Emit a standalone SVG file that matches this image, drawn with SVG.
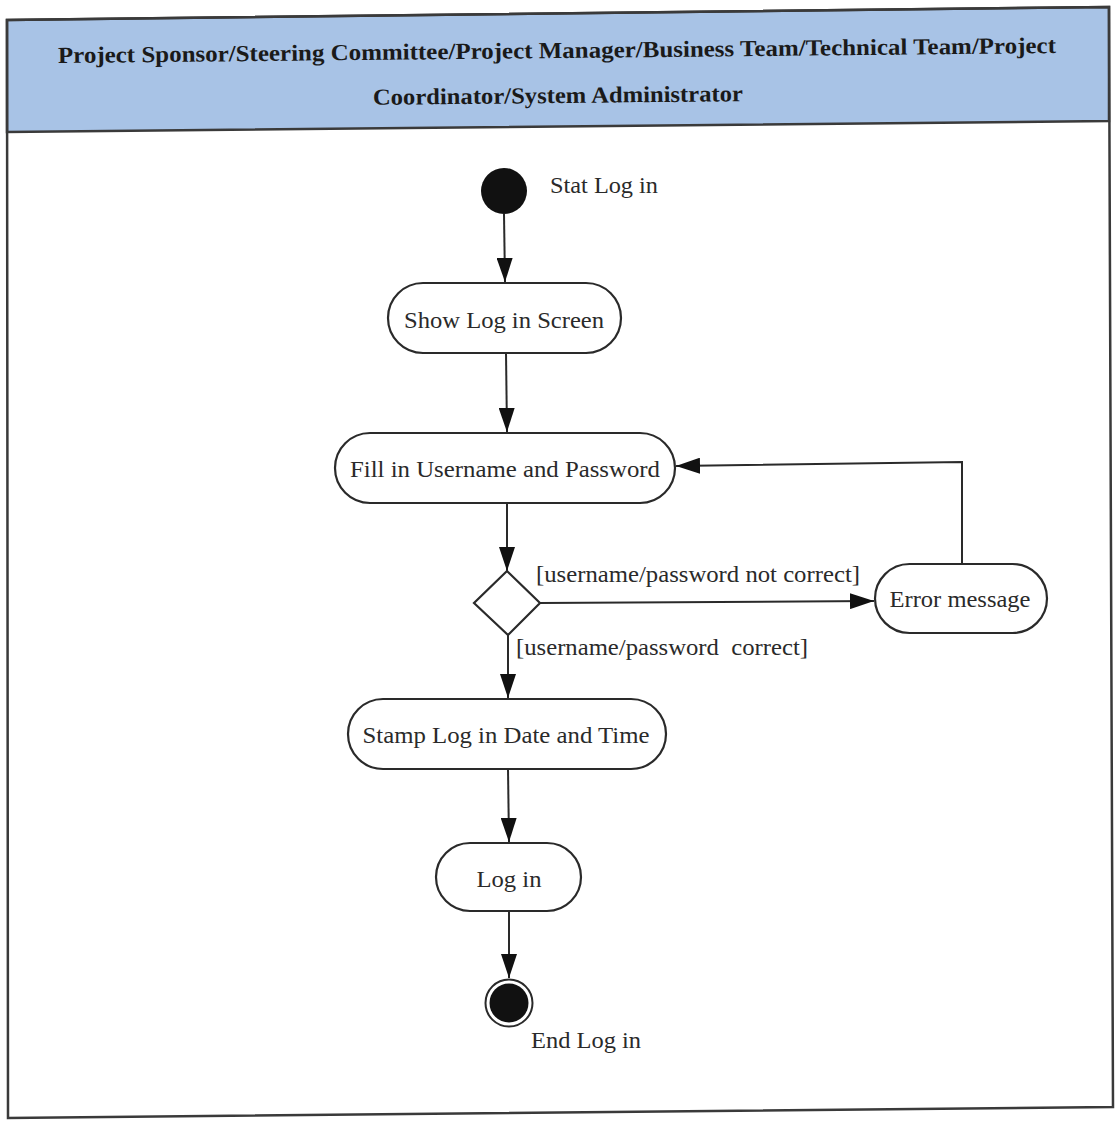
<svg xmlns="http://www.w3.org/2000/svg" width="1116" height="1122" viewBox="0 0 1116 1122">
  <style>
    .frame { fill: none; stroke: #3a3a3a; stroke-width: 2.5; }
    .head { fill: #a8c3e6; stroke: #3a3a3a; stroke-width: 2.5; }
    .htxt { font-family: "Liberation Serif", "Times New Roman", serif; font-weight: bold; font-size: 23px; fill: #1a1a1a; text-anchor: middle; }
    .act { fill: #ffffff; stroke: #2a2a2a; stroke-width: 2.2; }
    .txt { font-family: "Liberation Serif", "Times New Roman", serif; font-size: 24px; fill: #2a2a2a; }
    .mid { text-anchor: middle; }
    .flow { fill: none; stroke: #2a2a2a; stroke-width: 2; marker-end: url(#arrow); }
  </style>
  <defs>
    <marker id="arrow" markerUnits="userSpaceOnUse" markerWidth="24" markerHeight="16" refX="24" refY="8" orient="auto">
      <path d="M0,0 L24,8 L0,16 Z" fill="#111"/>
    </marker>
  </defs>

  <rect width="1116" height="1122" fill="#ffffff"/>

  <!-- swimlane frame and header -->
  <g id="lane">
    <path class="head" d="M7,20 L1109,7 L1109,121 L7,132 Z"/>
    <path class="frame" d="M7,20 L1109,7 L1113,1107 L8,1118 Z"/>
    <text class="htxt" x="557" y="58" textLength="998" lengthAdjust="spacingAndGlyphs" transform="rotate(-0.57 557 58)">Project Sponsor/Steering Committee/Project Manager/Business Team/Technical Team/Project</text>
    <text class="htxt" x="558" y="103" textLength="370" lengthAdjust="spacingAndGlyphs" transform="rotate(-0.57 558 103)">Coordinator/System Administrator</text>
  </g>

  <!-- connectors -->
  <g id="connectors">
    <path class="flow" d="M504,214 L505,282"/>
    <path class="flow" d="M506,353 L507,432"/>
    <path class="flow" d="M507,503 L507,571"/>
    <path class="flow" d="M540,603 L874,601"/>
    <path class="flow" d="M962,564 L962,462 L676,466"/>
    <path class="flow" d="M508,635 L508,698"/>
    <path class="flow" d="M508,769 L509,842"/>
    <path class="flow" d="M509,911 L509,978"/>
    <text class="txt" x="536" y="582" textLength="324" lengthAdjust="spacingAndGlyphs">[username/password not correct]</text>
    <text class="txt" x="516" y="655" textLength="292" lengthAdjust="spacingAndGlyphs" xml:space="preserve">[username/password  correct]</text>
  </g>

  <!-- start node -->
  <g id="start">
    <circle cx="504" cy="191" r="23" fill="#111"/>
    <text class="txt" x="550" y="193" textLength="108" lengthAdjust="spacingAndGlyphs">Stat Log in</text>
  </g>

  <g id="show-login">
    <rect class="act" x="388" y="283" width="233" height="70" rx="35"/>
    <text class="txt mid" x="504" y="328" textLength="200" lengthAdjust="spacingAndGlyphs">Show Log in Screen</text>
  </g>

  <g id="fill-credentials">
    <rect class="act" x="335" y="433" width="340" height="70" rx="35"/>
    <text class="txt mid" x="505" y="477" textLength="310" lengthAdjust="spacingAndGlyphs">Fill in Username and Password</text>
  </g>

  <g id="check">
    <path class="act" d="M507,571 L540,603 L508,635 L474,603 Z"/>
  </g>

  <g id="error-message">
    <rect class="act" x="875" y="564" width="172" height="69" rx="34.5"/>
    <text class="txt mid" x="960" y="607" textLength="141" lengthAdjust="spacingAndGlyphs">Error message</text>
  </g>

  <g id="stamp">
    <rect class="act" x="348" y="699" width="318" height="70" rx="35"/>
    <text class="txt mid" x="506" y="743" textLength="287" lengthAdjust="spacingAndGlyphs">Stamp Log in Date and Time</text>
  </g>

  <g id="login">
    <rect class="act" x="436" y="843" width="145" height="68" rx="34"/>
    <text class="txt mid" x="509" y="887" textLength="65" lengthAdjust="spacingAndGlyphs">Log in</text>
  </g>

  <!-- end node -->
  <g id="end">
    <circle cx="509" cy="1003" r="23.5" fill="#ffffff" stroke="#2a2a2a" stroke-width="2"/>
    <circle cx="509" cy="1003" r="19.5" fill="#111"/>
    <text class="txt" x="531" y="1048" textLength="110" lengthAdjust="spacingAndGlyphs">End Log in</text>
  </g>
</svg>
